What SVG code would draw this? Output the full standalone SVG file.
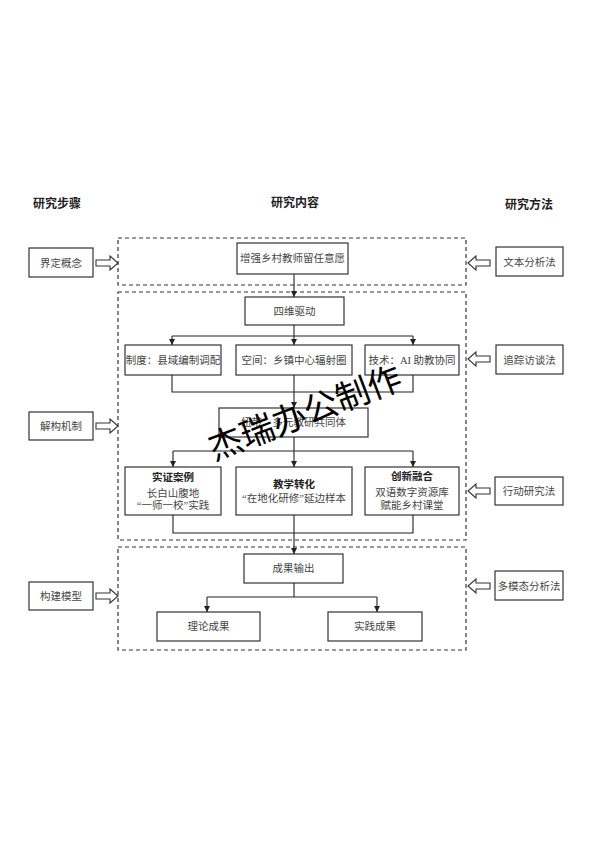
<svg xmlns="http://www.w3.org/2000/svg" width="594" height="841" viewBox="0 0 594 841">
<defs>
<style>
.bx{fill:#fff;stroke:#333;stroke-width:1.2}
.dash{fill:none;stroke:#333;stroke-width:1.2;stroke-dasharray:4 3}
.ln{fill:none;stroke:#222;stroke-width:1.1}
.t{font-family:"Liberation Serif","Noto Sans CJK SC",serif;font-size:10.5px;fill:#444;text-anchor:middle}
.tb{font-family:"Liberation Sans","Noto Sans CJK SC",sans-serif;font-size:10.5px;font-weight:bold;fill:#222;text-anchor:middle}
.h{font-family:"Liberation Sans","Noto Sans CJK SC",sans-serif;font-size:12px;font-weight:bold;fill:#222;text-anchor:middle}
.ha{fill:#fff;stroke:#333;stroke-width:1.1}
.wm{font-family:"Liberation Sans","Noto Sans CJK SC",sans-serif;font-size:34px;fill:#000;text-anchor:middle}
</style>
<marker id="ar" viewBox="0 0 8 8" refX="8" refY="4" markerWidth="6" markerHeight="6" orient="auto" markerUnits="userSpaceOnUse">
<path d="M0,0 L8,4 L0,8 z" fill="#222"/>
</marker>
</defs>

<g id="headers">
<text class="h" x="57" y="208">研究步骤</text>
<text class="h" x="295" y="207">研究内容</text>
<text class="h" x="529" y="209">研究方法</text>
</g>

<g id="frames">
<rect class="dash" x="118" y="238" width="348" height="47"/>
<rect class="dash" x="118" y="292" width="348" height="248"/>
<rect class="dash" x="118" y="547" width="348" height="103"/>
</g>

<g id="step1"><rect class="bx" x="29" y="248" width="64" height="29"/><text class="t" x="61" y="266.5">界定概念</text></g>
<g id="step2"><rect class="bx" x="29" y="412" width="64" height="28"/><text class="t" x="61" y="430">解构机制</text></g>
<g id="step3"><rect class="bx" x="29" y="582" width="64" height="28"/><text class="t" x="61" y="600">构建模型</text></g>

<g id="method1"><rect class="bx" x="496" y="247" width="67" height="29"/><text class="t" x="529.5" y="265.5">文本分析法</text></g>
<g id="method2"><rect class="bx" x="496" y="345" width="67" height="29"/><text class="t" x="529.5" y="363.5">追踪访谈法</text></g>
<g id="method3"><rect class="bx" x="495" y="477" width="68" height="28"/><text class="t" x="529" y="495">行动研究法</text></g>
<g id="method4"><rect class="bx" x="495" y="571" width="68" height="29"/><text class="t" x="529" y="589.5">多模态分析法</text></g>

<g id="goal"><rect class="bx" x="237" y="243" width="111" height="31"/><text class="t" x="292.5" y="262">增强乡村教师留任意愿</text></g>
<g id="drive"><rect class="bx" x="245" y="297" width="99" height="28"/><text class="t" x="294.5" y="315">四维驱动</text></g>
<g id="inst"><rect class="bx" x="125" y="345" width="96" height="30"/><text class="t" x="173" y="364">制度：县域编制调配</text></g>
<g id="space"><rect class="bx" x="236" y="345" width="116" height="30"/><text class="t" x="294" y="364">空间：乡镇中心辐射圈</text></g>
<g id="tech"><rect class="bx" x="365" y="345" width="94" height="30"/><text class="t" x="412" y="364">技术：AI 助教协同</text></g>
<g id="link"><rect class="bx" x="219" y="408" width="149" height="29"/><text class="t" x="293.5" y="426">纽带：多元教研共同体</text></g>
<g id="case"><rect class="bx" x="125" y="467" width="96" height="48"/><text class="tb" x="173" y="481">实证案例</text><text class="t" x="173" y="497">长白山腹地</text><text class="t" x="173" y="509">“一师一校”实践</text></g>
<g id="teach"><rect class="bx" x="236" y="467" width="116" height="48"/><text class="tb" x="294" y="488">教学转化</text><text class="t" x="294" y="502">“在地化研修”延边样本</text></g>
<g id="innov"><rect class="bx" x="365" y="467" width="94" height="48"/><text class="tb" x="412" y="480">创新融合</text><text class="t" x="412" y="496">双语数字资源库</text><text class="t" x="412" y="509">赋能乡村课堂</text></g>
<g id="output"><rect class="bx" x="244" y="554" width="99" height="29"/><text class="t" x="293.5" y="572">成果输出</text></g>
<g id="theory"><rect class="bx" x="157" y="612" width="103" height="29"/><text class="t" x="208.5" y="630">理论成果</text></g>
<g id="practice"><rect class="bx" x="328" y="612" width="94" height="29"/><text class="t" x="375" y="630">实践成果</text></g>

<g id="connectors">
<path class="ln" d="M294,274 V297" marker-end="url(#ar)"/>
<path class="ln" d="M294,325 V336"/>
<path class="ln" d="M172,336 H413"/>
<path class="ln" d="M172,336 V345" marker-end="url(#ar)"/>
<path class="ln" d="M294,336 V345" marker-end="url(#ar)"/>
<path class="ln" d="M413,336 V345" marker-end="url(#ar)"/>
<path class="ln" d="M172,375 V392 H413 V375"/>
<path class="ln" d="M294,375 V408" marker-end="url(#ar)"/>
<path class="ln" d="M294,437 V451"/>
<path class="ln" d="M173,451 H413"/>
<path class="ln" d="M173,451 V467" marker-end="url(#ar)"/>
<path class="ln" d="M294,451 V467" marker-end="url(#ar)"/>
<path class="ln" d="M413,451 V467" marker-end="url(#ar)"/>
<path class="ln" d="M173,515 V533 H413 V515"/>
<path class="ln" d="M294,515 V554" marker-end="url(#ar)"/>
<path class="ln" d="M294,583 V597"/>
<path class="ln" d="M207,597 H377"/>
<path class="ln" d="M207,597 V612" marker-end="url(#ar)"/>
<path class="ln" d="M377,597 V612" marker-end="url(#ar)"/>
<path class="ha" d="M96,260 H110 V256 L118,263 L110,270 V266 H96 Z"/>
<path class="ha" d="M96,423 H110 V419 L118,426 L110,433 V429 H96 Z"/>
<path class="ha" d="M96,593 H110 V589 L118,596 L110,603 V599 H96 Z"/>
<path class="ha" d="M490,260 H476 V256 L468,263 L476,270 V266 H490 Z"/>
<path class="ha" d="M490,356 H476 V352 L468,359 L476,366 V362 H490 Z"/>
<path class="ha" d="M490,488 H476 V484 L468,491 L476,498 V494 H490 Z"/>
<path class="ha" d="M490,583 H476 V579 L468,586 L476,593 V589 H490 Z"/>
</g>

<g id="watermark">
<text class="wm" x="305" y="425" transform="rotate(-21 305 413)">杰瑞办公制作</text>
</g>
</svg>
